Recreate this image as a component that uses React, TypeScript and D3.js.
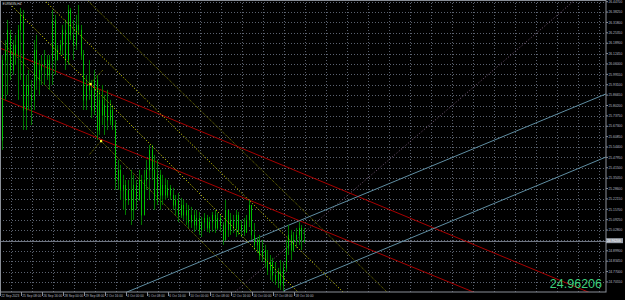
import React from "react";
import * as d3 from "d3";

const W = 625;
const H = 300;
const PLOT_W = 606;
const PLOT_H = 292;

const symbolLabel = "EURMXN,H4";
const lastPrice = 24.96206;

const highs = [26.116,26.209,26.334,26.272,26.209,26.241,26.303,26.408,26.396,25.992,26.023,25.961,26.209,26.241,26.085,26.116,26.147,26.116,26.116,26.396,26.365,26.178,26.209,26.303,26.334,26.427,26.408,26.334,26.365,26.427,26.303,26.147,25.992,26.085,25.961,26.023,25.992,25.899,25.930,25.868,25.899,25.837,25.806,25.712,25.464,25.433,25.371,25.339,25.339,25.402,25.371,25.339,25.402,25.371,25.402,25.464,25.557,25.557,25.495,25.464,25.402,25.371,25.352,25.339,25.308,25.290,25.246,25.259,25.228,25.215,25.197,25.184,25.172,25.153,25.153,25.141,25.110,25.134,25.122,25.110,25.141,25.153,25.134,25.122,25.078,25.215,25.153,25.134,25.122,25.153,25.141,25.091,25.103,25.122,25.215,25.184,25.072,24.985,24.998,24.967,24.936,24.904,24.873,24.855,24.830,24.793,24.842,24.830,24.967,25.060,25.029,25.016,25.041,25.078,25.060,25.041];
const lows = [25.526,25.837,25.868,25.961,25.992,26.054,25.837,25.961,25.650,25.650,25.774,25.681,25.774,25.899,25.868,25.930,25.930,25.961,25.899,25.930,25.992,26.085,26.116,26.116,26.023,26.054,26.209,26.085,26.147,26.241,26.085,25.774,25.774,25.837,25.725,25.743,25.588,25.619,25.681,25.619,25.650,25.681,25.650,25.277,25.277,25.215,25.153,25.122,25.184,25.060,25.091,25.153,25.215,25.060,25.122,25.277,25.215,25.339,25.153,25.184,25.153,25.184,25.215,25.228,25.215,25.153,25.122,25.078,25.103,25.091,25.060,25.041,25.041,25.016,25.029,24.998,24.985,25.029,25.016,25.010,25.016,25.010,25.029,25.016,24.936,24.967,24.985,24.998,25.010,24.985,24.998,24.985,24.991,25.010,25.047,24.967,24.904,24.886,24.842,24.830,24.793,24.749,24.718,24.706,24.687,24.668,24.656,24.650,24.768,24.873,24.842,24.892,24.917,24.936,24.904,24.948];
const opens = [25.588,26.085,26.147,26.241,26.023,26.178,26.116,26.272,26.365,25.774,25.930,25.868,25.837,26.147,25.961,26.023,26.054,26.085,25.992,26.085,26.334,26.085,26.147,26.178,26.272,26.085,26.396,26.241,26.178,26.303,26.272,26.116,25.837,25.930,25.899,25.774,25.961,25.650,25.837,25.743,25.806,25.712,25.774,25.681,25.339,25.402,25.277,25.308,25.215,25.277,25.153,25.308,25.215,25.339,25.122,25.339,25.402,25.526,25.402,25.215,25.371,25.246,25.308,25.246,25.290,25.246,25.184,25.215,25.122,25.184,25.122,25.153,25.078,25.122,25.060,25.103,25.029,25.078,25.103,25.041,25.078,25.122,25.041,25.103,25.060,24.967,25.153,25.029,25.091,25.041,25.122,25.029,25.060,25.016,25.091,25.184,24.998,24.936,24.967,24.873,24.904,24.830,24.780,24.830,24.749,24.718,24.768,24.687,24.793,24.917,24.998,24.904,24.967,24.998,25.041,24.967];
const closes = [26.085,26.147,26.272,26.023,26.178,26.116,26.272,26.365,25.774,25.930,25.868,25.837,26.147,25.961,26.023,26.054,26.085,25.992,26.085,26.334,26.085,26.147,26.178,26.272,26.085,26.396,26.241,26.178,26.303,26.272,26.116,25.837,25.930,25.899,25.774,25.961,25.650,25.837,25.743,25.806,25.712,25.774,25.681,25.339,25.402,25.277,25.308,25.215,25.277,25.153,25.308,25.215,25.339,25.122,25.339,25.402,25.526,25.402,25.215,25.371,25.246,25.308,25.246,25.290,25.246,25.184,25.215,25.122,25.184,25.122,25.153,25.078,25.122,25.060,25.103,25.029,25.078,25.103,25.041,25.078,25.122,25.041,25.103,25.060,24.967,25.153,25.029,25.091,25.041,25.122,25.029,25.060,25.016,25.091,25.184,24.998,24.936,24.967,24.873,24.904,24.830,24.780,24.830,24.749,24.718,24.768,24.687,24.793,24.917,24.998,24.904,24.967,24.998,25.041,24.967,24.962];

const priceTicks = [26.447,26.3825,26.318,26.2535,26.189,26.1245,26.06,25.9955,25.931,25.8665,25.802,25.7375,25.673,25.6085,25.544,25.4795,25.415,25.3505,25.286,25.2215,25.157,25.0925,25.028,24.9635,24.899,24.8345,24.77,24.7055];

const timeLabels = ["22 Sep 2023","25 Sep 08:00","26 Sep 16:00","28 Sep 00:00","29 Sep 08:00","2 Oct 16:00","4 Oct 00:00","5 Oct 08:00","6 Oct 16:00","10 Oct 00:00","11 Oct 08:00","12 Oct 16:00","16 Oct 00:00","17 Oct 08:00","18 Oct 16:00"];
const timeLabelBars = [0,8,16,24,32,40,48,56,64,72,80,88,96,104,112];

// drawn objects: [barIndex0, price0, barIndex1, price1]
const redLines = [
  [-0.762, 26.159, 230.1, 24.597],
  [-0.762, 25.849, 230.1, 24.305],
];
const blueLines = [
  [44.95, 24.625, 230.1, 25.874],
  [107.05, 24.649, 230.1, 25.482],
];
const brightYellowLines = [
  [1.52, 26.458, 112.76, 24.643],
  [16.0, 26.458, 129.9, 24.643],
];
const oliveLines = [
  [-0.762, 26.209, 95.24, 24.643],
  [32.38, 26.458, 146.67, 24.643],
  [33.52, 25.936, 38.48, 26.023],
  [37.71, 25.581, 33.14, 25.494],
];
const fanLines = [
  [88.76, 24.643, 218.3, 26.458],
];
const anchors = [
  [33.72, 25.936],
  [37.71, 25.581],
];

export default function App() {
  const x = d3.scaleLinear().domain([0, 115]).range([2, 2 + 115 * 2.625]);
  const y = d3.scaleLinear().domain([26.4576, 24.6431]).range([0, PLOT_H]);
  const n = closes.length;
  const gridX = d3.range(0, 29).map((k) => 10.5 + 21 * k).filter((v) => v < PLOT_W);
  const seg = (l: number[], i: number, color: string, dash?: string, w = 1) => (
    <line key={i} x1={x(l[0])} y1={y(l[1])} x2={x(l[2])} y2={y(l[3])} stroke={color} strokeWidth={w} strokeDasharray={dash} />
  );
  return (
    <svg width={W} height={H} style={{ position: "absolute", left: 0, top: 0, background: "#000" }}>
      <rect x={0} y={0} width={W} height={H} fill="#000" />
      <defs>
        <clipPath id="plot"><rect x={0} y={0} width={PLOT_W} height={PLOT_H} /></clipPath>
      </defs>
      <g clipPath="url(#plot)">
        {priceTicks.map((p, i) => (
          <line key={"h" + i} x1={0} x2={PLOT_W} y1={Math.round(y(p)) + 0.5} y2={Math.round(y(p)) + 0.5} stroke="#5b6270" strokeDasharray="1,2" />
        ))}
        {gridX.map((gx, i) => (
          <line key={"v" + i} x1={Math.round(gx) + 0.5} x2={Math.round(gx) + 0.5} y1={0} y2={PLOT_H} stroke="#5b6270" strokeDasharray="1,2" />
        ))}
        <line x1={0} x2={PLOT_W} y1={Math.round(y(lastPrice)) + 0.5} y2={Math.round(y(lastPrice)) + 0.5} stroke="#6e7480" strokeWidth={1} />
        {fanLines.map((l, i) => seg(l, i, "#7a5a7a", "1,2"))}
        {oliveLines.map((l, i) => seg(l, i, "#7a7a00", "1,1"))}
        {redLines.map((l, i) => seg(l, i, "#a80000"))}
        {blueLines.map((l, i) => seg(l, i, "#5f8ea3"))}
        {d3.range(n).map((i) => {
          const cx = Math.round(x(i)) + 0.5;
          const yo = y(opens[i]);
          const yc = y(closes[i]);
          return (
            <g key={"b" + i}>
              <line x1={cx} x2={cx} y1={y(highs[i])} y2={y(lows[i])} stroke="#007a00" strokeWidth={1} />
              <line x1={cx} x2={cx} y1={Math.min(yo, yc)} y2={Math.max(yo, yc) + 0.5} stroke="#00c000" strokeWidth={1} />
            </g>
          );
        })}
        {brightYellowLines.map((l, i) => seg(l, i, "#e8e800", "1,2"))}
        {anchors.map((a, i) => (
          <rect key={"a" + i} x={x(a[0]) - 1} y={y(a[1]) - 1} width={2.2} height={2.2} fill="#ffff30" />
        ))}
      </g>
      <rect x={0.5} y={0.5} width={PLOT_W - 0.5} height={PLOT_H - 0.5} fill="none" stroke="#8a8f98" strokeWidth={1} />
      <rect x={1.5} y={1.5} width={19} height={4} fill="#000" />
      <text x={2.5} y={4.6} fontSize={3.2} fill="#d8d8d8" fontFamily="Liberation Sans, Arial, sans-serif">{symbolLabel}</text>
      {priceTicks.map((p, i) => (
        <g key={"pt" + i}>
          <line x1={PLOT_W} x2={PLOT_W + 2} y1={y(p)} y2={y(p)} stroke="#8a8f98" />
          <text x={PLOT_W + 2.5} y={y(p) + 1.2} fontSize={3.3} fill="#b8bcc4" fontFamily="Liberation Sans, Arial, sans-serif">{p.toFixed(5)}</text>
        </g>
      ))}
      <rect x={PLOT_W} y={y(lastPrice) - 2.5} width={17} height={5} fill="#9aa0aa" />
      <text x={PLOT_W + 1} y={y(lastPrice) + 1.2} fontSize={3.3} fill="#ffffff" fontFamily="Liberation Sans, Arial, sans-serif">{lastPrice.toFixed(5)}</text>
      {timeLabels.map((t, i) => {
        const tx = x(timeLabelBars[i]) - 1.5;
        return (
          <g key={"tl" + i}>
            <line x1={tx} x2={tx} y1={PLOT_H} y2={PLOT_H + 4} stroke="#8a8f98" />
            <text x={tx + 0.8} y={PLOT_H + 4.5} fontSize={3.2} fill="#b8bcc4" fontFamily="Liberation Sans, Arial, sans-serif">{t}</text>
          </g>
        );
      })}
      <text x={602} y={288} textAnchor="end" fontSize={12.5} fill="#3dcf7c" fontFamily="Liberation Sans, Arial, sans-serif">{lastPrice.toFixed(5)}</text>
    </svg>
  );
}
